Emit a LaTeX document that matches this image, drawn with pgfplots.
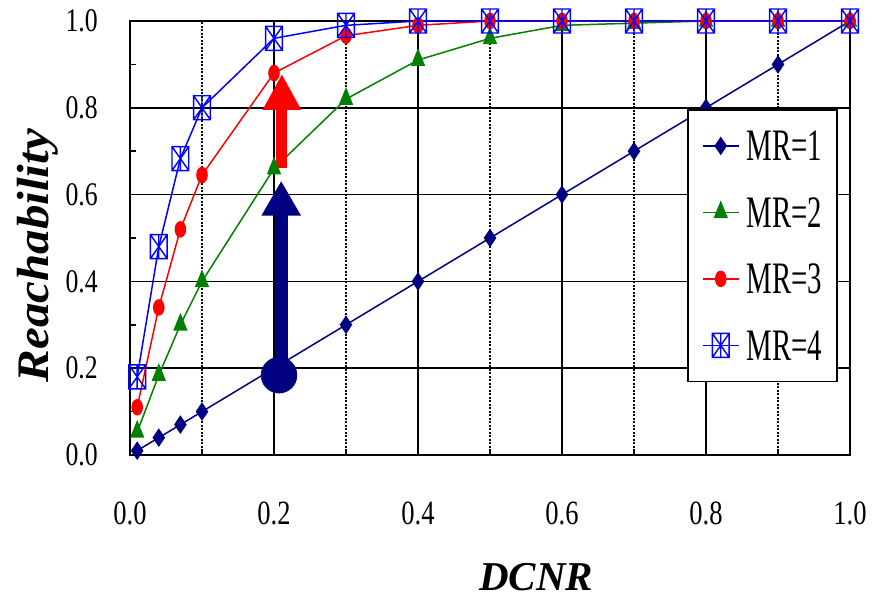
\documentclass[border=0pt]{standalone}
\usepackage{fontspec}
\setmainfont{Liberation Serif}
\newfontfamily\tickfont[FakeStretch=0.78]{Liberation Serif}
\newfontfamily\legfont[FakeStretch=0.64]{Liberation Serif}
\usepackage{graphicx}
\usepackage{pgfplots}
\pgfplotsset{compat=1.18}
\usetikzlibrary{arrows.meta}

\definecolor{mrnavy}{RGB}{0,0,128}
\definecolor{mrgreen}{RGB}{0,128,0}
\definecolor{mrred}{RGB}{255,0,0}
\definecolor{mrblue}{RGB}{0,0,255}

\pgfdeclareplotmark{boxast}{%
  \pgfpathrectangle{\pgfqpoint{-0.7\pgfplotmarksize}{-\pgfplotmarksize}}{\pgfqpoint{1.4\pgfplotmarksize}{2\pgfplotmarksize}}%
  \pgfpathmoveto{\pgfqpoint{-0.7\pgfplotmarksize}{-\pgfplotmarksize}}%
  \pgfpathlineto{\pgfqpoint{0.7\pgfplotmarksize}{\pgfplotmarksize}}%
  \pgfpathmoveto{\pgfqpoint{-0.7\pgfplotmarksize}{\pgfplotmarksize}}%
  \pgfpathlineto{\pgfqpoint{0.7\pgfplotmarksize}{-\pgfplotmarksize}}%
  \pgfpathmoveto{\pgfqpoint{0pt}{-\pgfplotmarksize}}%
  \pgfpathlineto{\pgfqpoint{0pt}{\pgfplotmarksize}}%
  \pgfusepathqstroke}

\begin{document}
\begin{tikzpicture}
\begin{axis}[
  scale only axis,
  width=720pt, height=434pt,
  xmin=0, xmax=1, ymin=0, ymax=1,
  clip=false,
  axis line style={line width=2.6pt},
  xtick={0,0.2,0.4,0.6,0.8,1.0},
  minor xtick={0.1,0.3,0.5,0.7,0.9},
  ytick={0,0.2,0.4,0.6,0.8,1.0},
  minor ytick={0.1,0.3,0.5,0.7,0.9},
  tick pos=left,
  tick align=inside,
  major tick length=7pt, minor tick length=6pt,
  every tick/.style={black, line width=1.5pt},
  xmajorgrids=true, ymajorgrids=true, xminorgrids=true, yminorgrids=false,
  major grid style={black, line width=1.6pt},
  minor x grid style={black, line width=1.2pt, dash pattern=on 2pt off 1.5pt},
  /pgf/number format/assume math mode=true,
  xticklabel style={/pgf/number format/.cd, fixed, fixed zerofill, precision=1, /tikz/.cd,
    font=\tickfont\fontsize{34}{34}\selectfont, inner sep=0pt, yshift=-47pt},
  yticklabel style={/pgf/number format/.cd, fixed, fixed zerofill, precision=1, /tikz/.cd,
    font=\tickfont\fontsize{33}{33}\selectfont, inner sep=0pt, xshift=-32pt},
  xlabel={\fontsize{41}{41}\selectfont\bfseries\itshape DCNR},
  xlabel style={at={(axis description cs:0.564,-0.281)}, anchor=center},
  ylabel={\scalebox{1}[0.92]{\fontsize{49}{49}\selectfont\bfseries\itshape Reachability}},
  ylabel style={at={(axis description cs:-0.128,0.459)}, anchor=center},
  legend style={at={(0.983,0.797)}, anchor=north east, draw=black, line width=1.6pt,
    fill=white, inner xsep=14pt, inner ysep=20pt, row sep=34.5pt, column sep=6pt,
    font=\legfont\fontsize{45}{45}\selectfont,
    nodes={inner sep=1pt, text height=30pt, text depth=0pt}},
  legend cell align=left,
  legend image code/.code={%
    \draw[mark repeat=2,mark phase=2] plot coordinates {(0pt,0pt) (18pt,0pt) (36pt,0pt)};},
]
\addplot[mrnavy, line width=1.5pt, mark=diamond*, mark size=8pt, mark options={xscale=0.9, solid}]
  coordinates {(0.01,0.01) (0.04,0.04) (0.07,0.07) (0.1,0.1) (0.2,0.2) (0.3,0.3) (0.4,0.4) (0.5,0.5) (0.6,0.6) (0.7,0.7) (0.8,0.8) (0.9,0.9) (1.0,1.0)};
\addlegendentry{MR=1}
\addplot[mrgreen, line width=1.5pt, mark=triangle*, mark size=10pt, mark options={xscale=0.7, solid}]
  coordinates {(0.01,0.053) (0.04,0.184) (0.07,0.30) (0.1,0.40) (0.2,0.66) (0.3,0.82) (0.4,0.91) (0.5,0.96) (0.6,0.99) (0.7,0.995) (0.8,1.0) (0.9,1.0) (1.0,1.0)};
\addlegendentry{MR=2}
\addplot[mrred, line width=1.5pt, mark=*, mark size=7.5pt, mark options={xscale=0.67, solid}]
  coordinates {(0.01,0.11) (0.04,0.34) (0.07,0.52) (0.1,0.645) (0.2,0.88) (0.3,0.966) (0.4,0.99) (0.5,1.0) (0.6,1.0) (0.7,1.0) (0.8,1.0) (0.9,1.0) (1.0,1.0)};
\addlegendentry{MR=3}
\addplot[mrblue, line width=1.5pt, mark=boxast, mark size=12pt, mark options={solid, line width=1.4pt}]
  coordinates {(0.01,0.18) (0.04,0.48) (0.07,0.683) (0.1,0.80) (0.2,0.96) (0.3,0.99) (0.4,1.0) (0.5,1.0) (0.6,1.0) (0.7,1.0) (0.8,1.0) (0.9,1.0) (1.0,1.0)};
\addlegendentry{MR=4}
% annotation arrows
\addplot[mrnavy, line width=13pt, -{Triangle[width=37pt,length=35pt]}, forget plot]
  coordinates {(0.21,0.185) (0.21,0.632)};
\addplot[mrred, line width=11pt, -{Triangle[width=36pt,length=36pt]}, forget plot]
  coordinates {(0.211,0.662) (0.211,0.878)};
\addplot[only marks, mark=*, mark size=18pt, mrnavy, forget plot]
  coordinates {(0.207,0.184)};
\coordinate (bl) at (rel axis cs:0,0);
\coordinate (tr) at (rel axis cs:1,1);
\end{axis}
\path ([xshift=-130pt,yshift=-144pt]bl) rectangle ([xshift=25pt,yshift=21pt]tr);
\end{tikzpicture}
\end{document}
